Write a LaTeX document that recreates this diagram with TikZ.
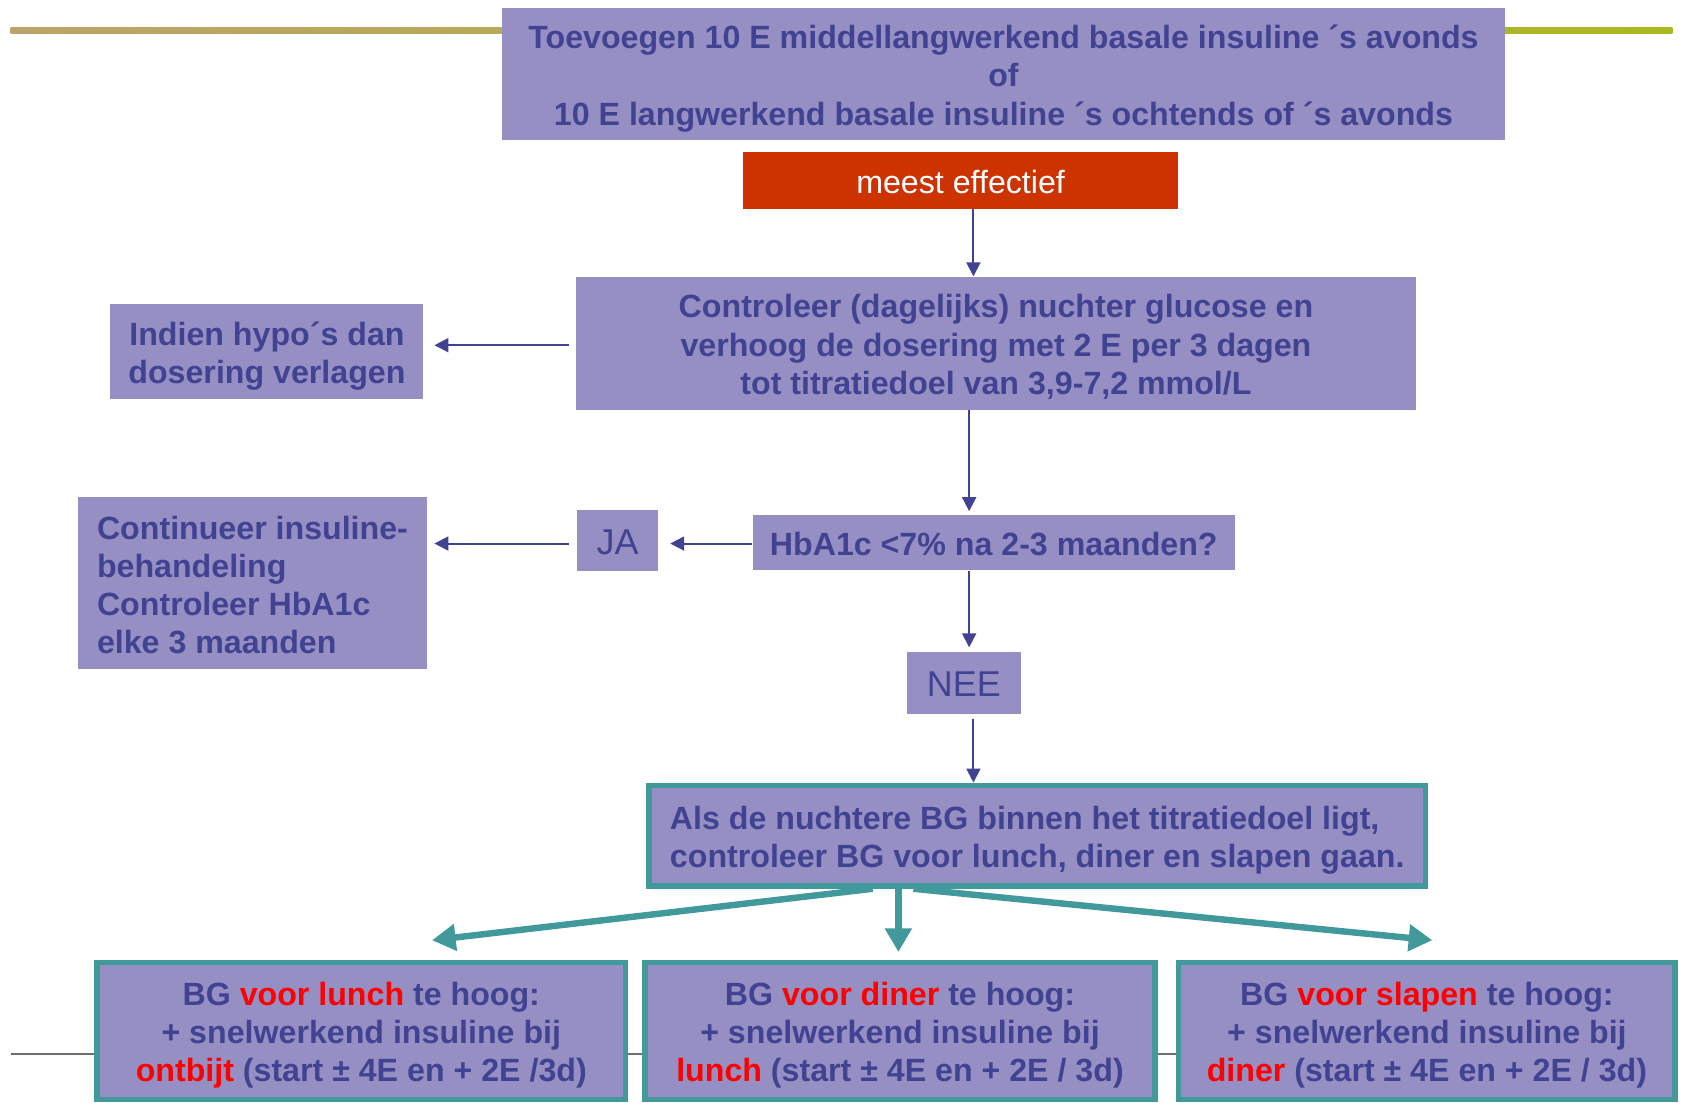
\documentclass[tikz,border=0pt]{standalone}
\usepackage{fontspec}
\setmainfont{Liberation Sans}
\usetikzlibrary{arrows.meta,calc}
\definecolor{boxfill}{RGB}{150,143,196}
\definecolor{txtblue}{RGB}{66,66,146}
\definecolor{tealc}{RGB}{66,153,155}
\definecolor{redbox}{RGB}{204,51,0}
\definecolor{hired}{RGB}{255,0,0}
\definecolor{goldl}{RGB}{187,164,107}
\definecolor{greenl}{RGB}{170,184,34}
\definecolor{grayl}{RGB}{110,110,110}
\newcommand{\hl}[1]{\textcolor{hired}{#1}}
\newcommand{\dn}[2][c]{\raisebox{-5pt}[\height][\depth]{\begin{tabular}{@{}#1@{}}#2\end{tabular}}}
\begin{document}
\begin{tikzpicture}[x=1pt,y=-1pt,
 box/.style={rectangle, fill=boxfill, text=txtblue, font=\fontsize{30}{35.5}\selectfont\bfseries, inner sep=0pt},
 tbox/.style={box, draw=tealc, line width=5pt},
 smallbox/.style={box, font=\fontsize{33.5}{38}\selectfont},
 bluearrow/.style={draw=txtblue, line width=1.8pt, -{Triangle[length=13pt,width=13pt]}},
 tealarrow/.style={draw=tealc, line width=6pt, -{Triangle[length=22pt,width=24pt]}}]
\fill[white] (0,0) rectangle (1568,1028);
\useasboundingbox (0,0) rectangle (1568,1028);
% decorative lines
\shade[left color=goldl, right color=greenl] (10,26) rectangle (1560,31);
\draw[grayl, line width=2pt] (10,983) -- (1565,983);
% nodes
\node[box, minimum width=936pt, minimum height=124pt] (top) at (936,69)
  {\dn{Toevoegen 10 E middellangwerkend basale insuline ´s avonds\\of\\10 E langwerkend basale insuline ´s ochtends of ´s avonds}};
\node[box, fill=redbox, text=white, font=\fontsize{30}{35.5}\selectfont, minimum width=406pt, minimum height=53pt] (red) at (896,168.5) {\dn{meest effectief}};
\node[box, minimum width=784pt, minimum height=124pt] (ctrl) at (929,320)
  {\dn{Controleer (dagelijks) nuchter glucose en\\verhoog de dosering met 2 E per 3 dagen\\tot titratiedoel van 3,9-7,2 mmol/L}};
\node[box, minimum width=292pt, minimum height=88pt] (hypo) at (249,328)
  {\dn{Indien hypo´s dan\\dosering verlagen}};
\node[box, minimum width=450pt, minimum height=52pt] (hba) at (927,506)
  {\dn{HbA1c <7\% na 2-3 maanden?}};
\node[smallbox, minimum width=76pt, minimum height=57pt] (ja) at (576,504.5) {\dn{JA}};
\node[box, minimum width=325pt, minimum height=160pt] (cont) at (235.5,544)
  {\dn[l]{Continueer insuline-\\behandeling\\Controleer HbA1c\\elke 3 maanden}};
\node[smallbox, minimum width=106pt, minimum height=58pt] (nee) at (899,637) {\dn{NEE}};
\node[tbox, minimum width=724pt, minimum height=94pt] (als) at (967.5,779.5)
  {\dn[l]{Als de nuchtere BG binnen het titratiedoel ligt,\\controleer BG voor lunch, diner en slapen gaan.}};
\node[tbox, minimum width=493pt, minimum height=128pt] (bA) at (337,961.5)
  {\dn{BG \hl{voor lunch} te hoog:\\+ snelwerkend insuline bij\\\hl{ontbijt} (start ± 4E en + 2E /3d)}};
\node[tbox, minimum width=476pt, minimum height=128pt] (bB) at (839.5,961.5)
  {\dn{BG \hl{voor diner} te hoog:\\+ snelwerkend insuline bij\\\hl{lunch} (start ± 4E en + 2E / 3d)}};
\node[tbox, minimum width=463pt, minimum height=128pt] (bC) at (1331,961.5)
  {\dn{BG \hl{voor slapen} te hoog:\\+ snelwerkend insuline bij\\\hl{diner} (start ± 4E en + 2E / 3d)}};
% blue connectors
\draw[bluearrow] ([xshift=12pt]red.south) -- ([xshift=12pt]red.south |- ctrl.north);
\draw[bluearrow, shorten <=6pt, shorten >=10pt] ([yshift=-2pt]ctrl.west) -- ([yshift=-2pt]ctrl.west -| hypo.east);
\draw[bluearrow, shorten >=3pt] ([xshift=-25pt]ctrl.south) -- ([xshift=-25pt]ctrl.south |- hba.north);
\draw[bluearrow, shorten >=11pt] ([yshift=-1pt]hba.west) -- ([yshift=-1pt]hba.west -| ja.east);
\draw[bluearrow, shorten <=7pt, shorten >=7pt] ([yshift=-2.5pt]ja.west) -- ([yshift=-2.5pt]ja.west -| cont.east);
\draw[bluearrow, shorten >=4pt] ([xshift=-23pt]hba.south) -- ([xshift=-23pt]hba.south |- nee.north);
\draw[bluearrow, shorten <=4pt] ([xshift=9pt]nee.south) -- ([xshift=9pt]nee.south |- als.north);
% teal connectors
\coordinate (tipA) at (403,877);
\coordinate (tipC) at (1336,877);
\draw[tealarrow] ([xshift=-153.5pt]als.south) -- (tipA);
\draw[tealarrow, shorten >=7pt] ([xshift=-129.5pt]als.south) -- ([xshift=-129.5pt]als.south |- bB.north);
\draw[tealarrow] ([xshift=-115.5pt]als.south) -- (tipC);
\end{tikzpicture}
\end{document}
